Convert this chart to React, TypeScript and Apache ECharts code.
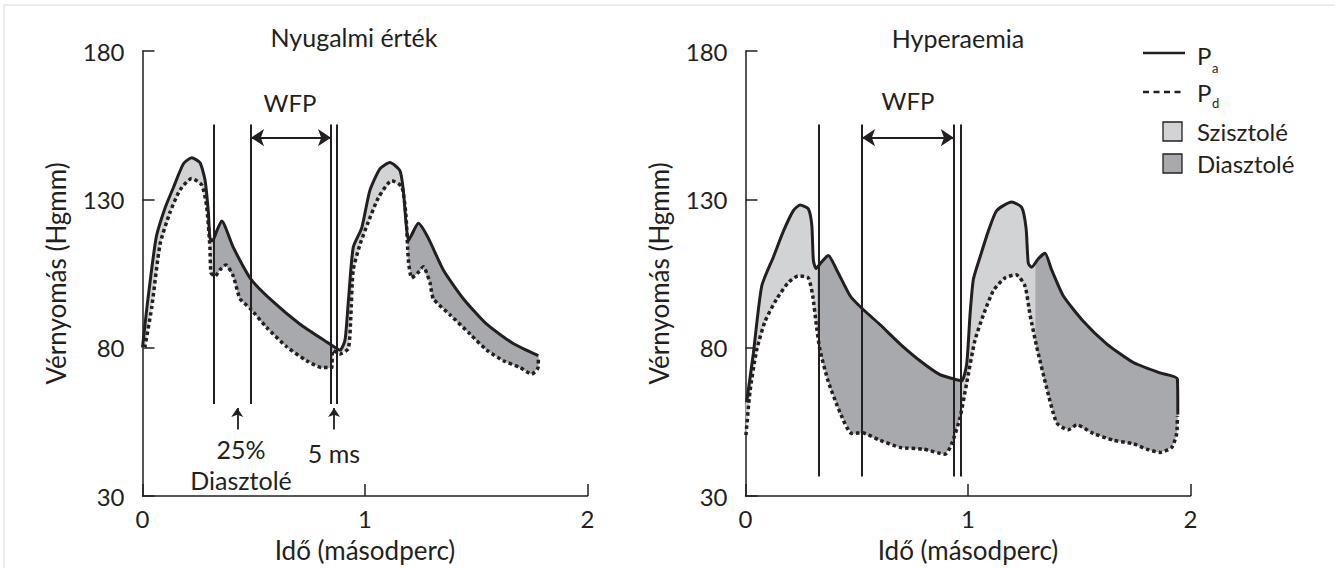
import React, { useEffect, useRef } from "react";
import * as echarts from "echarts";

const FONT = "Lato, 'Noto Sans', sans-serif";
const INK = "#231f20";
const SYS_FILL = "#d1d3d4";
const DIA_FILL = "#a7a9ac";

// ---------- data ----------
const timeTicks = [0, 1, 2];
const pressureTicks = [30, 80, 130, 180];

const restPa: number[][] = [
  [0, 80], [0.019, 93], [0.061, 117], [0.101, 127], [0.139, 134], [0.184, 142], [0.221, 144],
  [0.258, 142.4], [0.281, 136.5], [0.296, 125.7], [0.303, 117], [0.315, 116], [0.333, 119.2],
  [0.356, 122.7], [0.408, 113.8], [0.488, 103], [0.588, 95.4], [0.708, 87.9], [0.828, 81.9],
  [0.873, 79.7], [0.888, 79.1], [0.91, 82.5], [0.925, 95.4], [0.947, 113.8], [0.985, 120.3],
  [1.022, 133], [1.067, 140.3], [1.112, 142.4], [1.157, 139.7], [1.172, 133.2], [1.184, 122.4],
  [1.195, 116], [1.21, 118.1], [1.24, 121.9], [1.284, 117], [1.352, 106.2], [1.442, 96.5],
  [1.547, 87.9], [1.666, 81.4], [1.779, 77.3],
];
const restPd: number[][] = [
  [0.01, 80], [0.041, 93.3], [0.079, 114.9], [0.124, 125.7], [0.169, 133.2], [0.221, 137],
  [0.266, 134.9], [0.288, 127.8], [0.303, 113.8], [0.308, 105.2], [0.326, 104.1], [0.348, 106.2],
  [0.375, 107.9], [0.408, 104.1], [0.438, 96.5], [0.483, 93.3], [0.558, 86.8], [0.648, 80.3],
  [0.738, 75.6], [0.805, 73.3], [0.85, 73.3], [0.855, 79.1], [0.888, 77.9], [0.925, 79.7],
  [0.936, 90.1], [0.947, 106.2], [0.978, 114.9], [1.015, 122.4], [1.06, 130.5], [1.12, 136.3],
  [1.165, 134.3], [1.184, 124.6], [1.195, 109.5], [1.21, 103.5], [1.244, 105.7], [1.262, 107.3],
  [1.292, 101.9], [1.307, 96.5], [1.382, 91.1], [1.472, 84.6], [1.547, 79.2], [1.622, 75.6],
  [1.697, 73.3], [1.749, 71.1], [1.778, 73.3], [1.779, 76.7],
];
const hyperPa: number[][] = [
  [0.005, 61.6], [0.035, 77.9], [0.073, 100.8], [0.125, 110.5], [0.17, 119.2], [0.215, 126.2],
  [0.245, 128.1], [0.282, 126.8], [0.298, 121.3], [0.305, 109.4], [0.317, 106.7], [0.342, 108.9],
  [0.372, 111.1], [0.41, 106.2], [0.47, 97.5], [0.524, 93.2], [0.604, 87.8], [0.694, 81.3],
  [0.784, 75.6], [0.874, 70.9], [0.934, 69.5], [0.972, 68.8], [0.994, 74.4], [1.009, 91],
  [1.024, 103], [1.054, 110.5], [1.091, 119.2], [1.129, 126.2], [1.196, 129.1], [1.241, 127.3],
  [1.261, 120.3], [1.271, 108.4], [1.286, 107.1], [1.316, 110], [1.346, 111.8], [1.376, 106.2],
  [1.428, 97.5], [1.518, 88.9], [1.623, 81.3], [1.743, 75], [1.863, 71.5], [1.941, 69.5],
  [1.943, 57.5],
];
const hyperPd: number[][] = [
  [0.002, 50.5], [0.02, 65.1], [0.05, 79.1], [0.088, 88.9], [0.14, 96.4], [0.192, 101.9],
  [0.237, 104.2], [0.282, 103.5], [0.302, 97.5], [0.32, 86.7], [0.335, 79.1], [0.372, 68.6],
  [0.425, 58.1], [0.477, 51.1], [0.524, 51.3], [0.604, 48.8], [0.694, 46.4], [0.799, 45.8],
  [0.897, 44.1], [0.927, 47.6], [0.964, 56.4], [0.994, 68], [1.031, 82.4], [1.069, 91],
  [1.114, 99.2], [1.166, 103.5], [1.216, 104.6], [1.256, 100.8], [1.279, 91], [1.309, 80.2],
  [1.354, 66.3], [1.399, 54.6], [1.451, 52.3], [1.489, 54], [1.563, 51.1], [1.653, 48.8],
  [1.743, 47.6], [1.803, 45.8], [1.863, 44.7], [1.916, 46.4], [1.938, 51.1], [1.941, 56.9],
];

// phases: [start, end, kind] kind 0 = systole, 1 = diastole
const restPhases = [[0, 0.321, 0], [0.321, 0.858, 1], [0.858, 1.195, 0], [1.195, 1.779, 1]];
const hyperPhases = [[0.002, 0.325, 0], [0.325, 0.966, 1], [0.966, 1.305, 0], [1.305, 1.943, 1]];

const restMarkers = [0.321, 0.488, 0.847, 0.874];
const hyperMarkers = [0.33, 0.524, 0.936, 0.969];
const restWfp = [0.488, 0.847];
const hyperWfp = [0.524, 0.936];
const restPointers = [0.426, 0.861];

const markerTop = 155.2;
const restMarkerBottom = 61;
const hyperMarkerBottom = 36.6;
const wfpLevel = 150.8;
const pointerRange = [52.4, 59.7];

// ---------- helpers ----------
function interp(pts: number[][], t: number) {
  const n = pts.length;
  if (t <= pts[0][0]) return pts[0][1];
  if (t >= pts[n - 1][0]) return pts[n - 1][1];
  for (let i = 0; i < n - 1; i++) {
    const a = pts[i], b = pts[i + 1];
    if (t >= a[0] && t <= b[0]) {
      if (b[0] === a[0]) return a[1];
      return a[1] + ((b[1] - a[1]) * (t - a[0])) / (b[0] - a[0]);
    }
  }
  return pts[n - 1][1];
}
function slice(pts: number[][], t0: number, t1: number) {
  const out = [[t0, interp(pts, t0)]];
  pts.forEach((p) => {
    if (p[0] > t0 && p[0] < t1) out.push(p);
  });
  out.push([t1, interp(pts, t1)]);
  return out;
}

function fillSeries(g: number, pa: number[][], pd: number[][], phases: number[][]) {
  return {
    type: "custom",
    xAxisIndex: g,
    yAxisIndex: g,
    silent: true,
    z: 1,
    data: phases,
    encode: { x: [0, 1], y: 2 },
    renderItem: (_p: any, api: any) => {
      const t0 = api.value(0), t1 = api.value(1), kind = api.value(2);
      const upper = slice(pa, t0, t1);
      const lower = slice(pd, t0, t1).reverse();
      const points = upper.concat(lower).map((p) => api.coord(p));
      const c = kind === 0 ? SYS_FILL : DIA_FILL;
      return { type: "polygon", shape: { points }, style: { fill: c, stroke: c, lineWidth: 0.8 } };
    },
  };
}

function lineSeries(g: number, data: number[][], dashed: boolean, markLine: any) {
  return {
    type: "line",
    xAxisIndex: g,
    yAxisIndex: g,
    data,
    symbol: "none",
    showSymbol: false,
    smooth: 0.2,
    silent: true,
    z: 3,
    lineStyle: dashed
      ? { color: INK, width: 3.5, type: [3.5, 3], cap: "butt" }
      : { color: INK, width: 3 },
    markLine,
  };
}

function markerLines(ts: number[], bottom: number) {
  return {
    silent: true,
    symbol: ["none", "none"],
    label: { show: false },
    emphasis: { disabled: true },
    lineStyle: { color: INK, width: 2, type: "solid" },
    data: ts.map((t) => [{ coord: [t, markerTop] }, { coord: [t, bottom] }]),
  };
}

function arrowLines(wfp: number[], pointers: number[]) {
  const data: any[] = [
    [
      { coord: [wfp[0], wfpLevel], symbol: "arrow", symbolSize: 13, lineStyle: { color: INK, width: 2.2, type: "solid" } },
      { coord: [wfp[1], wfpLevel], symbol: "arrow", symbolSize: 13 },
    ],
  ];
  pointers.forEach((t) => {
    data.push([
      { coord: [t, pointerRange[0]], symbol: "none", lineStyle: { color: INK, width: 1.8, type: "solid" } },
      { coord: [t, pointerRange[1]], symbol: "arrow", symbolSize: 9 },
    ]);
  });
  return {
    silent: true,
    label: { show: false },
    emphasis: { disabled: true },
    lineStyle: { color: INK, width: 2, type: "solid" },
    data,
  };
}

const tickText = { color: INK, fontSize: 24, fontFamily: FONT };
const nameText = { color: INK, fontSize: 26, fontFamily: FONT };

function xAxisFor(g: number) {
  return {
    type: "value",
    gridIndex: g,
    min: 0,
    max: 2,
    interval: 1,
    axisLine: { show: true, onZero: false, lineStyle: { color: INK, width: 1.5 } },
    axisTick: { show: true, inside: true, length: 12, lineStyle: { color: INK, width: 1.5 }, customValues: timeTicks },
    axisLabel: { ...tickText, margin: 10, customValues: timeTicks },
    splitLine: { show: false },
    name: "Idő (másodperc)",
    nameLocation: "middle",
    nameGap: 41,
    nameTextStyle: nameText,
  };
}
function yAxisFor(g: number) {
  return {
    type: "value",
    gridIndex: g,
    min: 30,
    max: 180,
    interval: 50,
    axisLine: { show: true, onZero: false, lineStyle: { color: INK, width: 1.5 } },
    axisTick: { show: true, inside: true, length: 12, lineStyle: { color: INK, width: 1.5 }, customValues: pressureTicks },
    axisLabel: { ...tickText, margin: 18, customValues: pressureTicks },
    splitLine: { show: false },
    name: "Vérnyomás (Hgmm)",
    nameLocation: "middle",
    nameGap: 74,
    nameTextStyle: nameText,
  };
}

function txt(text: string, x: number, y: number, size: number, align = "center") {
  return {
    type: "text",
    x,
    y,
    silent: true,
    style: { text, fill: INK, fontSize: size, fontFamily: FONT, align, verticalAlign: "middle" },
  };
}

const graphics: any[] = [
  { type: "line", silent: true, shape: { x1: 4, y1: 5, x2: 1335, y2: 5 }, style: { stroke: "#e4e4e4", lineWidth: 1.5 } },
  { type: "line", silent: true, shape: { x1: 4, y1: 5, x2: 4, y2: 568 }, style: { stroke: "#e4e4e4", lineWidth: 1.5 } },
  txt("Nyugalmi érték", 354, 37, 25),
  txt("Hyperaemia", 958, 38, 25),
  txt("WFP", 290, 102, 24),
  txt("WFP", 908, 100, 24),
  txt("25%", 241, 449, 25),
  txt("Diasztolé", 241, 480, 25),
  txt("5 ms", 334, 453, 25),
  // legend
  { type: "line", silent: true, shape: { x1: 1143, y1: 53, x2: 1185, y2: 53 }, style: { stroke: INK, lineWidth: 2.5 } },
  txt("P", 1197, 55, 24, "left"),
  txt("a", 1212, 68, 13, "left"),
  { type: "line", silent: true, shape: { x1: 1143, y1: 92, x2: 1183, y2: 92 }, style: { stroke: INK, lineWidth: 2.5, lineDash: [6, 4.5] } },
  txt("P", 1197, 92, 24, "left"),
  txt("d", 1212, 103, 13, "left"),
  { type: "rect", silent: true, shape: { x: 1163, y: 122, width: 19, height: 19 }, style: { fill: SYS_FILL, stroke: INK, lineWidth: 1.3 } },
  txt("Szisztolé", 1197, 131, 24, "left"),
  { type: "rect", silent: true, shape: { x: 1163, y: 154, width: 19, height: 19 }, style: { fill: DIA_FILL, stroke: INK, lineWidth: 1.3 } },
  txt("Diasztolé", 1197, 163, 24, "left"),
];

const option: any = {
  animation: false,
  backgroundColor: "#ffffff",
  grid: [
    { left: 142.5, top: 51, width: 445, height: 446 },
    { left: 745.5, top: 51, width: 445, height: 446 },
  ],
  xAxis: [xAxisFor(0), xAxisFor(1)],
  yAxis: [yAxisFor(0), yAxisFor(1)],
  series: [
    fillSeries(0, restPa, restPd, restPhases),
    lineSeries(0, restPa, false, markerLines(restMarkers, restMarkerBottom)),
    lineSeries(0, restPd, true, arrowLines(restWfp, restPointers)),
    fillSeries(1, hyperPa, hyperPd, hyperPhases),
    lineSeries(1, hyperPa, false, markerLines(hyperMarkers, hyperMarkerBottom)),
    lineSeries(1, hyperPd, true, arrowLines(hyperWfp, [])),
  ],
  graphic: graphics,
};

export default function App() {
  const ref = useRef<HTMLDivElement>(null);
  useEffect(() => {
    const chart = echarts.init(ref.current!, null, { renderer: "svg" });
    chart.setOption(option);
    return () => chart.dispose();
  }, []);
  return (
    <div
      ref={ref}
      style={{ position: "fixed", left: 0, top: 0, width: 1335, height: 568, background: "#fff" }}
    />
  );
}
